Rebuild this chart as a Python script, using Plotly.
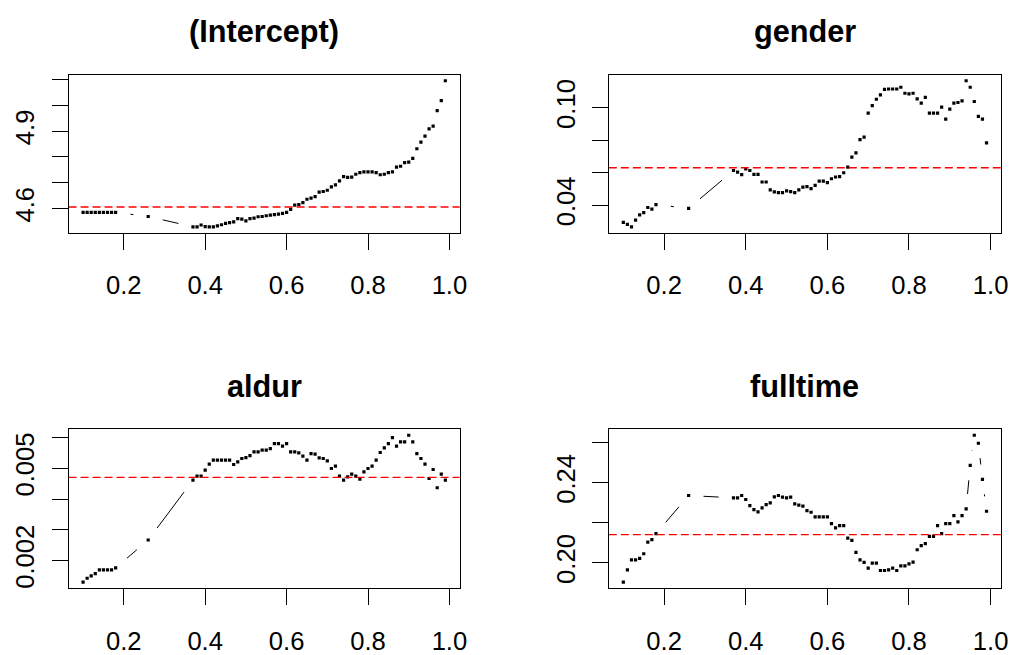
import numpy as np
import plotly.graph_objects as go

# ---------------- data ----------------
tau = [0.10, 0.11, 0.12, 0.13, 0.14, 0.15, 0.16, 0.17, 0.18, 0.26] + \
      [round(0.37 + 0.01 * i, 2) for i in range(63)]

intercept = [4.585, 4.585, 4.585, 4.585, 4.585, 4.585, 4.585, 4.585, 4.585, 4.569,
             4.529, 4.529, 4.536, 4.530, 4.529, 4.529, 4.533, 4.537, 4.542, 4.545,
             4.548, 4.561, 4.559, 4.552, 4.561, 4.563, 4.568, 4.569, 4.572, 4.574,
             4.576, 4.578, 4.581, 4.585, 4.597, 4.613, 4.615, 4.623, 4.636, 4.640,
             4.646, 4.664, 4.666, 4.671, 4.684, 4.692, 4.707, 4.724, 4.721, 4.722,
             4.733, 4.739, 4.742, 4.742, 4.742, 4.739, 4.731, 4.733, 4.739, 4.742,
             4.761, 4.764, 4.778, 4.780, 4.795, 4.832, 4.858, 4.881, 4.909, 4.920,
             4.980, 5.019, 5.096]

gender = [0.0294, 0.0282, 0.0267, 0.0308, 0.0341, 0.0355, 0.0386, 0.0376, 0.0404, 0.0380,
          0.0614, 0.0604, 0.0588, 0.0624, 0.0614, 0.0590, 0.0590, 0.0543, 0.0543, 0.0494,
          0.0482, 0.0478, 0.0478, 0.0488, 0.0484, 0.0478, 0.0494, 0.0512, 0.0514, 0.0502,
          0.0522, 0.0549, 0.0549, 0.0539, 0.0563, 0.0574, 0.0576, 0.0600, 0.0635, 0.0696,
          0.0722, 0.0804, 0.0820, 0.0967, 0.1014, 0.1053, 0.1080, 0.1114, 0.1116, 0.1116,
          0.1116, 0.1127, 0.1090, 0.1086, 0.1090, 0.1055, 0.1029, 0.1065, 0.0967, 0.0967,
          0.0967, 0.1004, 0.0931, 0.0992, 0.1029, 0.1033, 0.1043, 0.1167, 0.1127, 0.1039,
          0.0947, 0.0931, 0.0784]

aldur = [0.001297, 0.001427, 0.001503, 0.001578, 0.001697, 0.001697, 0.001697, 0.001697, 0.001762, 0.002670,
         0.004616, 0.004746, 0.004746, 0.004941, 0.005135, 0.005265, 0.005265, 0.005265, 0.005265, 0.005265,
         0.005124, 0.005211, 0.005319, 0.005351, 0.005416, 0.005535, 0.005535, 0.005589, 0.005589, 0.005643,
         0.005805, 0.005805, 0.005719, 0.005805, 0.005535, 0.005535, 0.005503, 0.005395, 0.005265, 0.005481,
         0.005459, 0.005341, 0.005319, 0.005243, 0.004995, 0.005070, 0.004746, 0.004616, 0.004724, 0.004811,
         0.004746, 0.004649, 0.004886, 0.004995, 0.005070, 0.005265, 0.005514, 0.005665, 0.005805, 0.006000,
         0.005719, 0.005859, 0.005859, 0.006076, 0.005859, 0.005481, 0.005319, 0.005135, 0.004670, 0.004962,
         0.004368, 0.004811, 0.004616]

fulltime = [0.19029, 0.19649, 0.20151, 0.20151, 0.20218, 0.20452, 0.21038, 0.21155, 0.21456, 0.23364,
            0.23247, 0.23247, 0.23364, 0.23163, 0.22862, 0.22661, 0.22544, 0.22745, 0.22912, 0.22996,
            0.23297, 0.23364, 0.23280, 0.23247, 0.23280, 0.22946, 0.22879, 0.22828, 0.22611, 0.22527,
            0.22293, 0.22293, 0.22293, 0.22293, 0.21958, 0.21741, 0.21858, 0.21858, 0.21238, 0.21121,
            0.20519, 0.20151, 0.20017, 0.19732, 0.19983, 0.19983, 0.19615, 0.19615, 0.19649, 0.19732,
            0.19615, 0.19849, 0.19849, 0.19950, 0.20033, 0.20653, 0.20854, 0.20954, 0.21322, 0.21322,
            0.21858, 0.21456, 0.21958, 0.21958, 0.22360, 0.22042, 0.22360, 0.22695, 0.24870, 0.26376,
            0.25975, 0.24167, 0.22577]

titles = ["(Intercept)", "gender", "aldur", "fulltime"]
series = [intercept, gender, aldur, fulltime]
ols = [4.606, 0.0631, 0.004703, 0.21406]

x_ticks = [0.2, 0.4, 0.6, 0.8, 1.0]
x_ticklabels = ["0.2", "0.4", "0.6", "0.8", "1.0"]
y_ticks = [[4.6, 4.7, 4.8, 4.9, 5.0, 5.1],
           [0.04, 0.06, 0.08, 0.10],
           [0.002, 0.003, 0.004, 0.005, 0.006],
           [0.20, 0.22, 0.24, 0.26]]
y_ticklabels = [["4.6", "", "", "4.9", "", ""],
                ["0.04", "", "", "0.10"],
                ["0.002", "", "", "0.005", ""],
                ["0.20", "", "0.24", ""]]

# ---------------- layout geometry ----------------
OFF = 8                      # page body margin of the html page
W, H = 1017 - OFF, 655 - OFF  # figure size so it fits the window exactly
boxes_page = [(69, 463, 75, 233), (613, 1008, 75, 233),
              (69, 463, 430, 589), (613, 1008, 430, 589)]  # left,right,top,bottom (page px)
boxes = [(l - OFF, r - OFF, t - OFF, b - OFF) for (l, r, t, b) in boxes_page]

FONT = "Liberation Sans, Arial, Helvetica, sans-serif"
GAP = 15.0  # px gap around points for R type="b" look


def pad_range(v):
    lo, hi = min(v), max(v)
    d = (hi - lo) * 0.04
    return [lo - d, hi + d]


fig = go.Figure()
annotations = []
xr = pad_range(tau)

for i, (ttl, ys) in enumerate(zip(titles, series)):
    k = "" if i == 0 else str(i + 1)
    L, R, T, B = boxes[i]
    yr = pad_range(ys)
    sx = (R - L) / (xr[1] - xr[0])
    sy = (B - T) / (yr[1] - yr[0])

    # line segments with gaps near points (type = "b")
    lx, ly = [], []
    for j in range(len(tau) - 1):
        x0, y0, x1, y1 = tau[j], ys[j], tau[j + 1], ys[j + 1]
        dxp, dyp = (x1 - x0) * sx, (y1 - y0) * sy
        Lp = (dxp ** 2 + dyp ** 2) ** 0.5
        if Lp > 2 * GAP:
            f = GAP / Lp
            lx += [x0 + (x1 - x0) * f, x1 - (x1 - x0) * f, None]
            ly += [y0 + (y1 - y0) * f, y1 - (y1 - y0) * f, None]
    fig.add_trace(go.Scatter(x=lx, y=ly, mode="lines", xaxis="x" + k, yaxis="y" + k,
                             line=dict(color="black", width=1), hoverinfo="skip",
                             showlegend=False))
    fig.add_trace(go.Scatter(x=tau, y=ys, mode="markers", xaxis="x" + k, yaxis="y" + k,
                             marker=dict(symbol="square", size=3.2, color="black",
                                         line=dict(width=0)),
                             showlegend=False, name=ttl))
    fig.add_trace(go.Scatter(x=xr, y=[ols[i], ols[i]], mode="lines", xaxis="x" + k,
                             yaxis="y" + k, line=dict(color="red", width=1.3, dash="8px,4px"),
                             hoverinfo="skip", showlegend=False))

    axis_common = dict(showgrid=False, zeroline=False, showline=True, linecolor="black",
                       linewidth=1, mirror=True, ticks="outside", ticklen=16,
                       tickwidth=1, tickcolor="black",
                       tickfont=dict(family=FONT, size=25.6, color="black"))
    fig.layout["xaxis" + k] = dict(axis_common, domain=[L / W, R / W], range=xr,
                                   anchor="y" + k, tickmode="array", tickvals=x_ticks,
                                   ticktext=x_ticklabels, ticklabelstandoff=14)
    fig.layout["yaxis" + k] = dict(axis_common, domain=[1 - B / H, 1 - T / H], range=yr,
                                   anchor="x" + k, tickmode="array", tickvals=y_ticks[i],
                                   ticktext=y_ticklabels[i], tickangle=-90,
                                   ticklabelstandoff=7)
    annotations.append(dict(text="<b>%s</b>" % ttl, x=(L + R) / 2 / W, y=1 - (T - 43) / H,
                            xref="paper", yref="paper", xanchor="center", yanchor="middle",
                            showarrow=False, font=dict(family=FONT, size=30.7, color="black")))

fig.update_layout(width=W, height=H, margin=dict(l=0, r=0, t=0, b=0),
                  paper_bgcolor="white", plot_bgcolor="white",
                  annotations=annotations, showlegend=False)

fig.write_html("out.html")
